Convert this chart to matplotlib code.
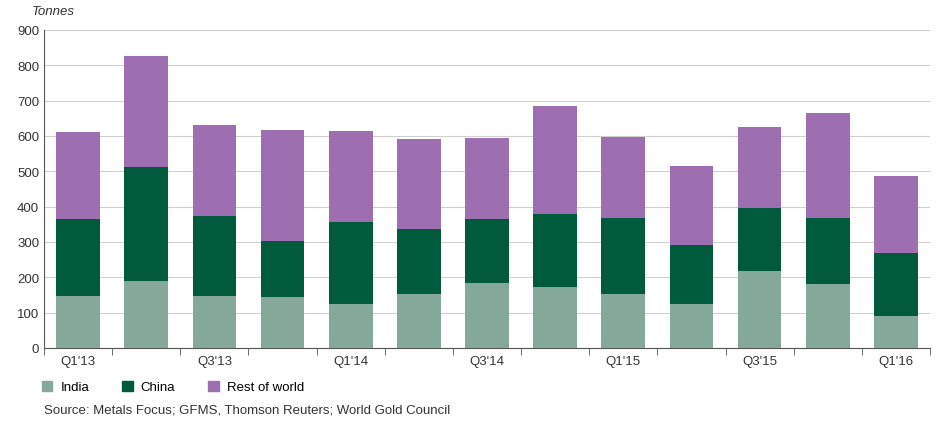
import numpy as np
import matplotlib.pyplot as plt
from matplotlib.patches import Patch

quarters = ["Q1'13", "Q2'13", "Q3'13", "Q4'13", "Q1'14", "Q2'14", "Q3'14",
            "Q4'14", "Q1'15", "Q2'15", "Q3'15", "Q4'15", "Q1'16"]
india = [147, 190, 147, 143, 125, 153, 183, 174, 153, 125, 217, 182, 90]
china = [218, 322, 226, 159, 232, 183, 183, 204, 215, 167, 180, 186, 178]
rest = [245, 314, 258, 315, 258, 255, 228, 308, 230, 222, 228, 297, 218]

c_india = '#84a89a'
c_china = '#005a3c'
c_rest = '#9e6fb0'

plt.rcParams['font.family'] = 'Liberation Sans'
fig = plt.figure(figsize=(9.45, 4.39), dpi=100)
ax = fig.add_axes([44 / 945, 1 - 349 / 439, 886 / 945, 318 / 439])

x = np.arange(len(quarters))
w = 0.64
india_a = np.array(india)
china_a = np.array(china)
ax.bar(x, india_a, w, color=c_india, zorder=3)
ax.bar(x, china_a, w, bottom=india_a, color=c_china, zorder=3)
ax.bar(x, rest, w, bottom=india_a + china_a, color=c_rest, zorder=3)

ax.set_xlim(-0.5, len(quarters) - 0.5)
ax.set_ylim(0, 900)
ax.set_yticks(range(0, 901, 100))
ax.grid(axis='y', color='#d0d0d0', linewidth=0.8, zorder=0)
ax.set_xticks(x[::2])
ax.set_xticklabels(quarters[::2], fontsize=9.5, color='#333333')
ax.set_xticks(np.arange(-0.5, len(quarters), 1), minor=True)
ax.tick_params(axis='x', which='major', length=0, pad=5)
ax.tick_params(axis='x', which='minor', length=5, color='#555555')
ax.tick_params(axis='y', length=0, labelsize=9.5, labelcolor='#333333')
for s in ['top', 'right']:
    ax.spines[s].set_visible(False)
ax.spines['left'].set_color('#555555')
ax.spines['bottom'].set_color('#555555')
fig.text(32 / 945, 1 - 12 / 439, 'Tonnes', style='italic', fontsize=9.5,
         color='#333333', va='center')

handles = [Patch(color=c_india, label='India'),
           Patch(color=c_china, label='China'),
           Patch(color=c_rest, label='Rest of world')]
fig.legend(handles=handles, loc='center left', bbox_to_anchor=(30 / 945, 1 - 388 / 439),
           ncol=3, frameon=False, fontsize=9.5, handlelength=0.8, handleheight=0.8,
           columnspacing=2.5, handletextpad=0.6)
fig.text(44 / 945, 1 - 411 / 439,
         'Source: Metals Focus; GFMS, Thomson Reuters; World Gold Council',
         fontsize=9.5, color='#333333', va='center')

fig.savefig('out.png', dpi=100)
